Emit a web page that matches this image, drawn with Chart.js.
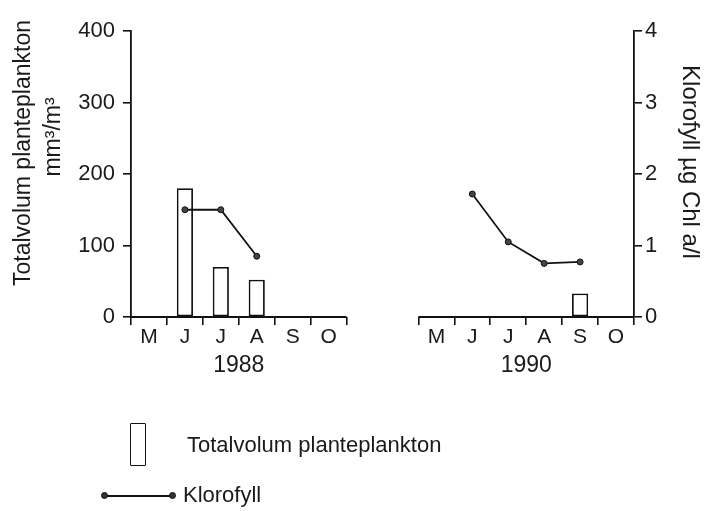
<!DOCTYPE html>
<html>
<head>
<meta charset="utf-8">
<script src="https://cdn.jsdelivr.net/npm/chart.js@4.4.1/dist/chart.umd.min.js"></script>
<style>
  body { margin: 0; background: #fff; }
  #wrap { position: relative; width: 705px; height: 511px; font-family: "Liberation Sans", Arial, sans-serif; color: #1a1a1a; }
  #wrap canvas { position: absolute; left: 0; top: 0; }
  .leg-text { position: absolute; font-size: 22px; line-height: 22px; white-space: nowrap; }
  .leg-bar { position: absolute; left: 130px; top: 423px; width: 14px; height: 41px; border: 1.8px solid #111; border-radius: 1px; }
  .leg-line { position: absolute; left: 104px; top: 495px; width: 68px; height: 1.8px; background: #111; }
  .leg-dot { position: absolute; width: 5px; height: 5px; border-radius: 50%; background: #333; border: 0.8px solid #111; }
</style>
</head>
<body>
<div id="wrap">
  <canvas id="chart" width="705" height="511"></canvas>
  <div class="leg-bar"></div>
  <div class="leg-text" style="left:187px; top:434px;">Totalvolum planteplankton</div>
  <div class="leg-line"></div>
  <div class="leg-dot" style="left:101px; top:492px;"></div>
  <div class="leg-dot" style="left:169px; top:492px;"></div>
  <div class="leg-text" style="left:183px; top:484px;">Klorofyll</div>
</div>
<script>
// Months per season, two seasons with a two-month gap between them
const months = ['M', 'J', 'J', 'A', 'S', 'O'];
const gap = ['', ''];
const years = ['1988', '1990'];

// Totalvolum planteplankton (mm3/m3)
const plankton1988 = [null, 180, 70, 52, null, null];
const plankton1990 = [null, null, null, null, 33, null];

// Klorofyll (ug Chl a/l)
const klorofyll1988 = [null, 1.5, 1.5, 0.85, null, null];
const klorofyll1990 = [null, 1.72, 1.05, 0.75, 0.77, null];

const leftTicks = [0, 100, 200, 300, 400];
const rightTicks = [0, 1, 2, 3, 4];

const labels = [...months, ...gap, ...months];
const gapFill = gap.map(() => null);
const FONT = '"Liberation Sans", Arial, sans-serif';
const INK = '#111';

// axis baselines, year labels and axis titles
const decorPlugin = {
    id: 'decor',
    afterDraw(chart) {
        const ctx = chart.ctx;
        const x = chart.scales.x;
        const y = chart.scales.y;
        const half = (x.getPixelForValue(1) - x.getPixelForValue(0)) / 2;
        const base = y.getPixelForValue(0);
        const panels = [[0, months.length - 1], [months.length + gap.length, labels.length - 1]];

        ctx.save();
        ctx.strokeStyle = INK;
        ctx.lineWidth = 1.8;
        ctx.fillStyle = '#1a1a1a';
        ctx.font = '23px ' + FONT;
        ctx.textAlign = 'center';
        ctx.textBaseline = 'middle';
        panels.forEach(([a, b], i) => {
            const x0 = x.getPixelForValue(a) - half;
            const x1 = x.getPixelForValue(b) + half;
            ctx.beginPath();
            ctx.moveTo(x0, base);
            ctx.lineTo(x1, base);
            ctx.stroke();
            ctx.fillText(years[i], (x0 + x1) / 2, base + 49);
        });

        const area = chart.chartArea;
        ctx.save();
        ctx.translate(area.left - 107, area.top + 122);
        ctx.rotate(-Math.PI / 2);
        ctx.fillText('Totalvolum planteplankton', 0, 0);
        ctx.restore();
        ctx.save();
        ctx.translate(area.left - 77, area.top + 106);
        ctx.rotate(-Math.PI / 2);
        ctx.fillText('mm³/m³', 0, 0);
        ctx.restore();
        ctx.save();
        ctx.font = '24px ' + FONT;
        ctx.translate(area.right + 56, area.top + 131);
        ctx.rotate(Math.PI / 2);
        ctx.fillText('Klorofyll µg Chl a/l', 0, 0);
        ctx.restore();
        ctx.restore();
    }
};

function renderChart() {
    const ctx = document.getElementById('chart').getContext('2d');
    new Chart(ctx, {
        type: 'bar',
        data: {
            labels: labels,
            datasets: [{
                type: 'line',
                label: 'Klorofyll',
                data: [...klorofyll1988, ...gapFill, ...klorofyll1990],
                yAxisID: 'y1',
                borderColor: INK,
                borderWidth: 1.8,
                pointRadius: 3,
                pointBackgroundColor: '#444',
                pointBorderColor: INK,
                pointBorderWidth: 1,
                spanGaps: false,
                order: 0
            }, {
                label: 'Totalvolum planteplankton',
                data: [...plankton1988, ...gapFill, ...plankton1990],
                yAxisID: 'y',
                backgroundColor: '#fff',
                borderColor: INK,
                borderWidth: 1.8,
                borderSkipped: false,
                barPercentage: 0.45,
                categoryPercentage: 1,
                order: 1
            }]
        },
        options: {
            responsive: false,
            animation: false,
            devicePixelRatio: 1,
            layout: { padding: { top: 31, bottom: 134, left: 0, right: 0 } },
            plugins: {
                legend: { display: false },
                tooltip: { enabled: false }
            },
            scales: {
                x: {
                    offset: true,
                    afterFit: s => { s.height = 60; },
                    border: { display: false },
                    grid: {
                        offset: true,
                        drawOnChartArea: false,
                        drawTicks: true,
                        tickLength: 8,
                        lineWidth: 1.6,
                        // no tick in the middle of the gap between the seasons
                        color: c => (c.index === months.length + 1 ? 'rgba(0,0,0,0)' : INK)
                    },
                    ticks: {
                        autoSkip: false,
                        maxRotation: 0,
                        padding: 0,
                        color: '#1a1a1a',
                        font: { family: FONT, size: 21 }
                    }
                },
                y: {
                    position: 'left',
                    min: 0,
                    max: 400,
                    afterFit: s => { s.width = 131; },
                    afterBuildTicks: s => { s.ticks = leftTicks.map(v => ({ value: v })); },
                    border: { display: true, color: INK, width: 1.8 },
                    grid: { drawOnChartArea: false, tickLength: 8, color: INK, lineWidth: 1.6 },
                    ticks: { padding: 8, color: '#1a1a1a', font: { family: FONT, size: 22 } }
                },
                y1: {
                    position: 'right',
                    min: 0,
                    max: 4,
                    afterFit: s => { s.width = 71; },
                    afterBuildTicks: s => { s.ticks = rightTicks.map(v => ({ value: v })); },
                    border: { display: true, color: INK, width: 1.8 },
                    grid: { drawOnChartArea: false, tickLength: 8, color: INK, lineWidth: 1.6 },
                    ticks: { padding: 3, color: '#1a1a1a', font: { family: FONT, size: 22 } }
                }
            }
        },
        plugins: [decorPlugin]
    });
}

window.onload = renderChart;
</script>
</body>
</html>
